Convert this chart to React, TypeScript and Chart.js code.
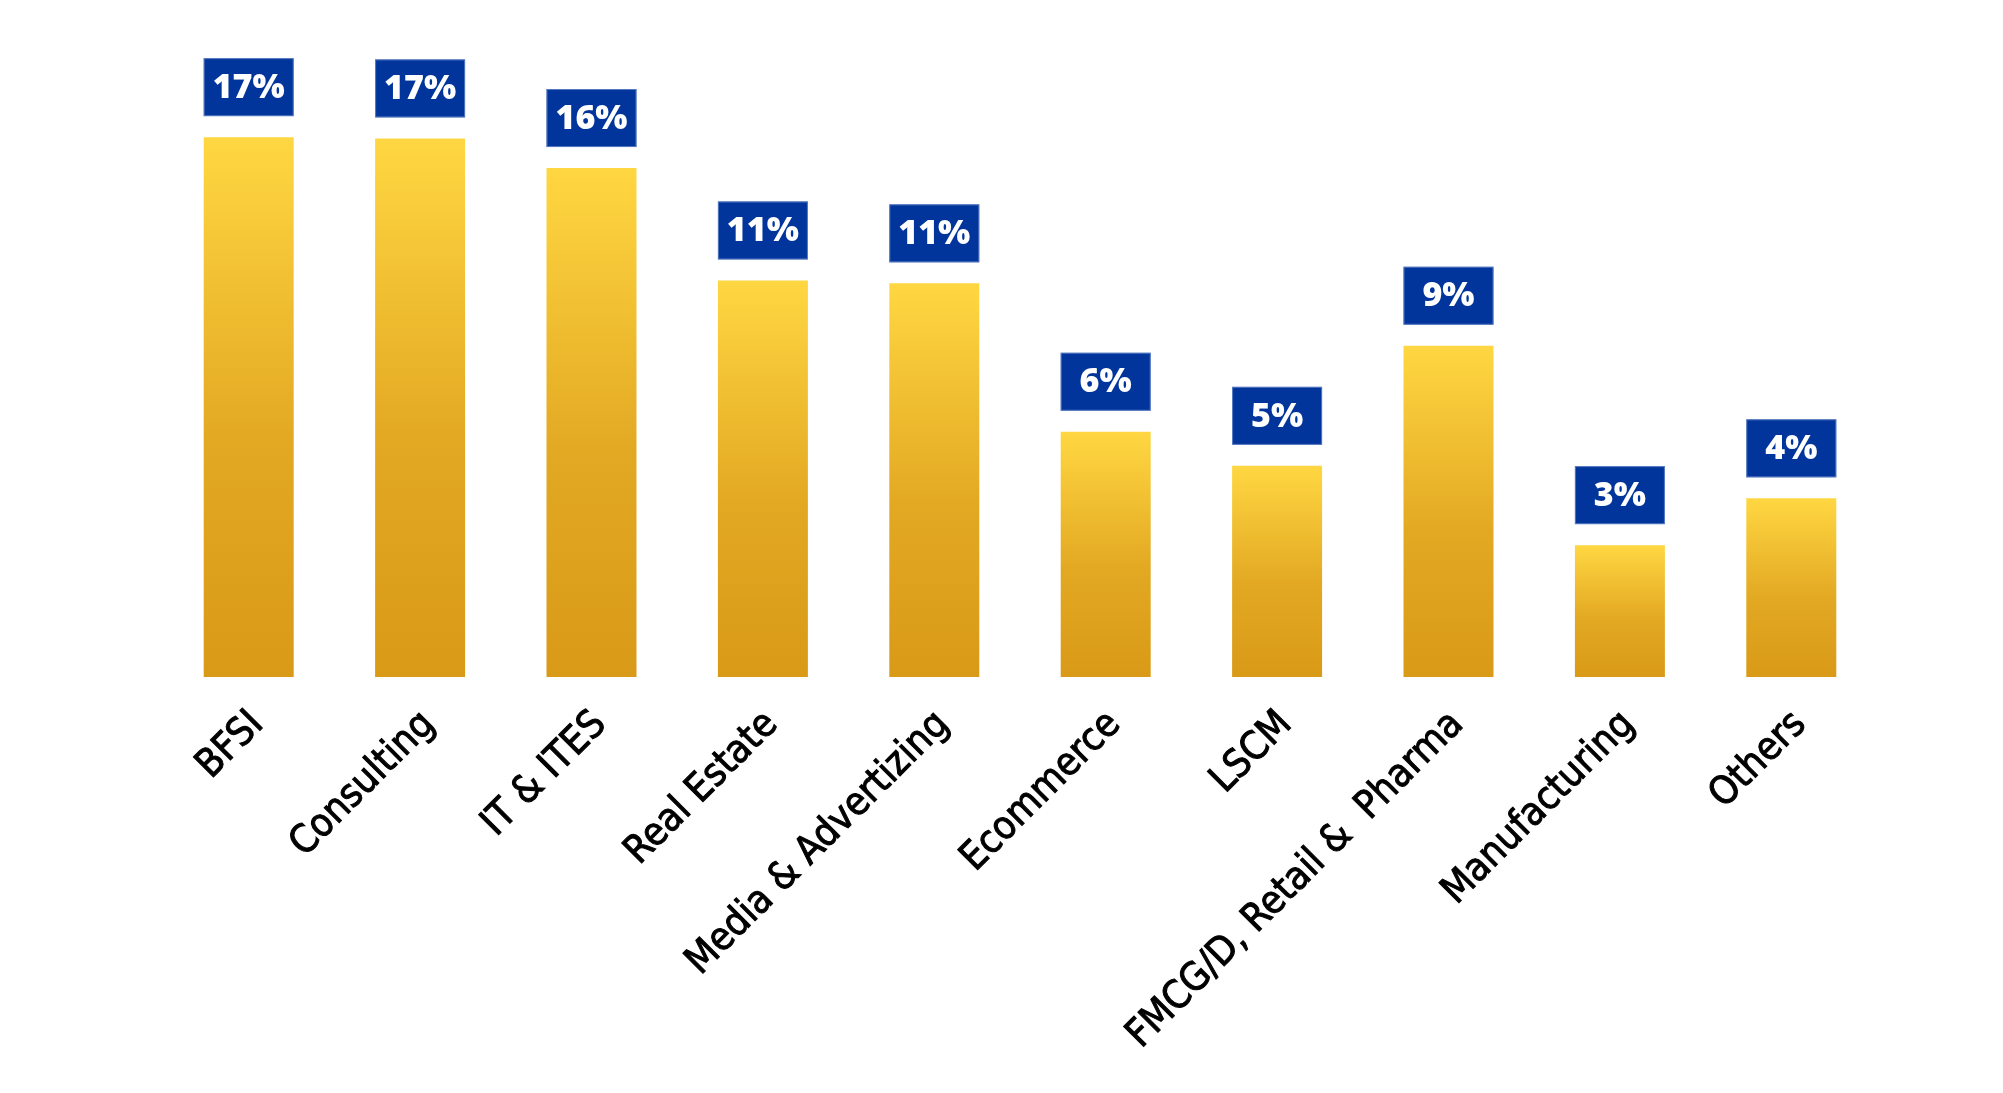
import React, { useEffect, useRef } from "react";
import { Chart, registerables } from "chart.js";

Chart.register(...registerables);

const categories = [
  "BFSI",
  "Consulting",
  "IT & ITES",
  "Real Estate",
  "Media & Advertizing",
  "Ecommerce",
  "LSCM",
  "FMCG/D, Retail &  Pharma",
  "Manufacturing",
  "Others",
];
const barValues = [16.95, 16.91, 15.98, 12.45, 12.36, 7.7, 6.63, 10.4, 4.14, 5.61];
const valueLabels = ["17%", "17%", "16%", "11%", "11%", "6%", "5%", "9%", "3%", "4%"];

const labelBoxPlugin = {
  id: "labelBoxes",
  afterDatasetsDraw(chart: any) {
    const ctx = chart.ctx;
    const meta = chart.getDatasetMeta(0);
    ctx.save();
    meta.data.forEach((bar: any, i: number) => {
      const w = bar.width;
      const h = 58;
      const gap = 21;
      const x0 = bar.x - w / 2;
      const y0 = bar.y - gap - h;
      ctx.fillStyle = "#01359B";
      ctx.fillRect(x0, y0, w, h);
      ctx.strokeStyle = "rgba(120,150,210,0.7)";
      ctx.lineWidth = 1;
      ctx.strokeRect(x0 + 0.5, y0 + 0.5, w - 1, h - 1);
      ctx.fillStyle = "#ffffff";
      ctx.font = "800 34px 'Open Sans', 'DejaVu Sans', sans-serif";
      ctx.textAlign = "center";
      ctx.textBaseline = "middle";
      ctx.fillText(valueLabels[i], bar.x, y0 + h / 2 + 1);
    });
    ctx.restore();
  },
};

export default function App() {
  const canvasRef = useRef<HTMLCanvasElement | null>(null);

  useEffect(() => {
    if (!canvasRef.current) return;
    const chart = new Chart(canvasRef.current, {
      type: "bar",
      data: {
        labels: categories,
        datasets: [
          {
            data: barValues,
            backgroundColor: (context: any) => {
              const c = context.chart;
              const area = c.chartArea;
              if (!area || context.type !== "data") return "#E0A520";
              const yScale = c.scales.y;
              const top = yScale.getPixelForValue(context.raw);
              const bottom = yScale.getPixelForValue(0);
              const g = c.ctx.createLinearGradient(0, top, 0, bottom);
              g.addColorStop(0, "#FFD742");
              g.addColorStop(0.55, "#E3A923");
              g.addColorStop(1, "#D99A17");
              return g;
            },
            borderWidth: 0,
            barPercentage: 0.525,
            categoryPercentage: 1,
          },
        ],
      },
      options: {
        animation: false,
        responsive: true,
        maintainAspectRatio: false,
        layout: { padding: { left: 163, right: 126, top: 40, bottom: 0 } },
        plugins: {
          legend: { display: false },
          tooltip: { enabled: false },
        },
        scales: {
          x: {
            grid: { display: false, drawTicks: false },
            border: { display: false },
            ticks: {
              color: "#000000",
              font: { family: "'DejaVu Sans Condensed', 'DejaVu Sans', sans-serif", size: 39, weight: "500" },
              textStrokeColor: "#000000",
              textStrokeWidth: 1,
              maxRotation: 45,
              minRotation: 45,
              padding: 25,
              labelOffset: 9,
              autoSkip: false,
            },
            afterFit: (scale: any) => {
              scale.height = 416;
            },
          },
          y: {
            display: false,
            min: 0,
            max: 20,
          },
        },
      },
      plugins: [labelBoxPlugin],
    });
    return () => chart.destroy();
  }, []);

  return (
    <div style={{ position: "fixed", left: 0, top: 0, width: 2003, height: 1093, background: "#ffffff" }}>
      <canvas ref={canvasRef} />
    </div>
  );
}
